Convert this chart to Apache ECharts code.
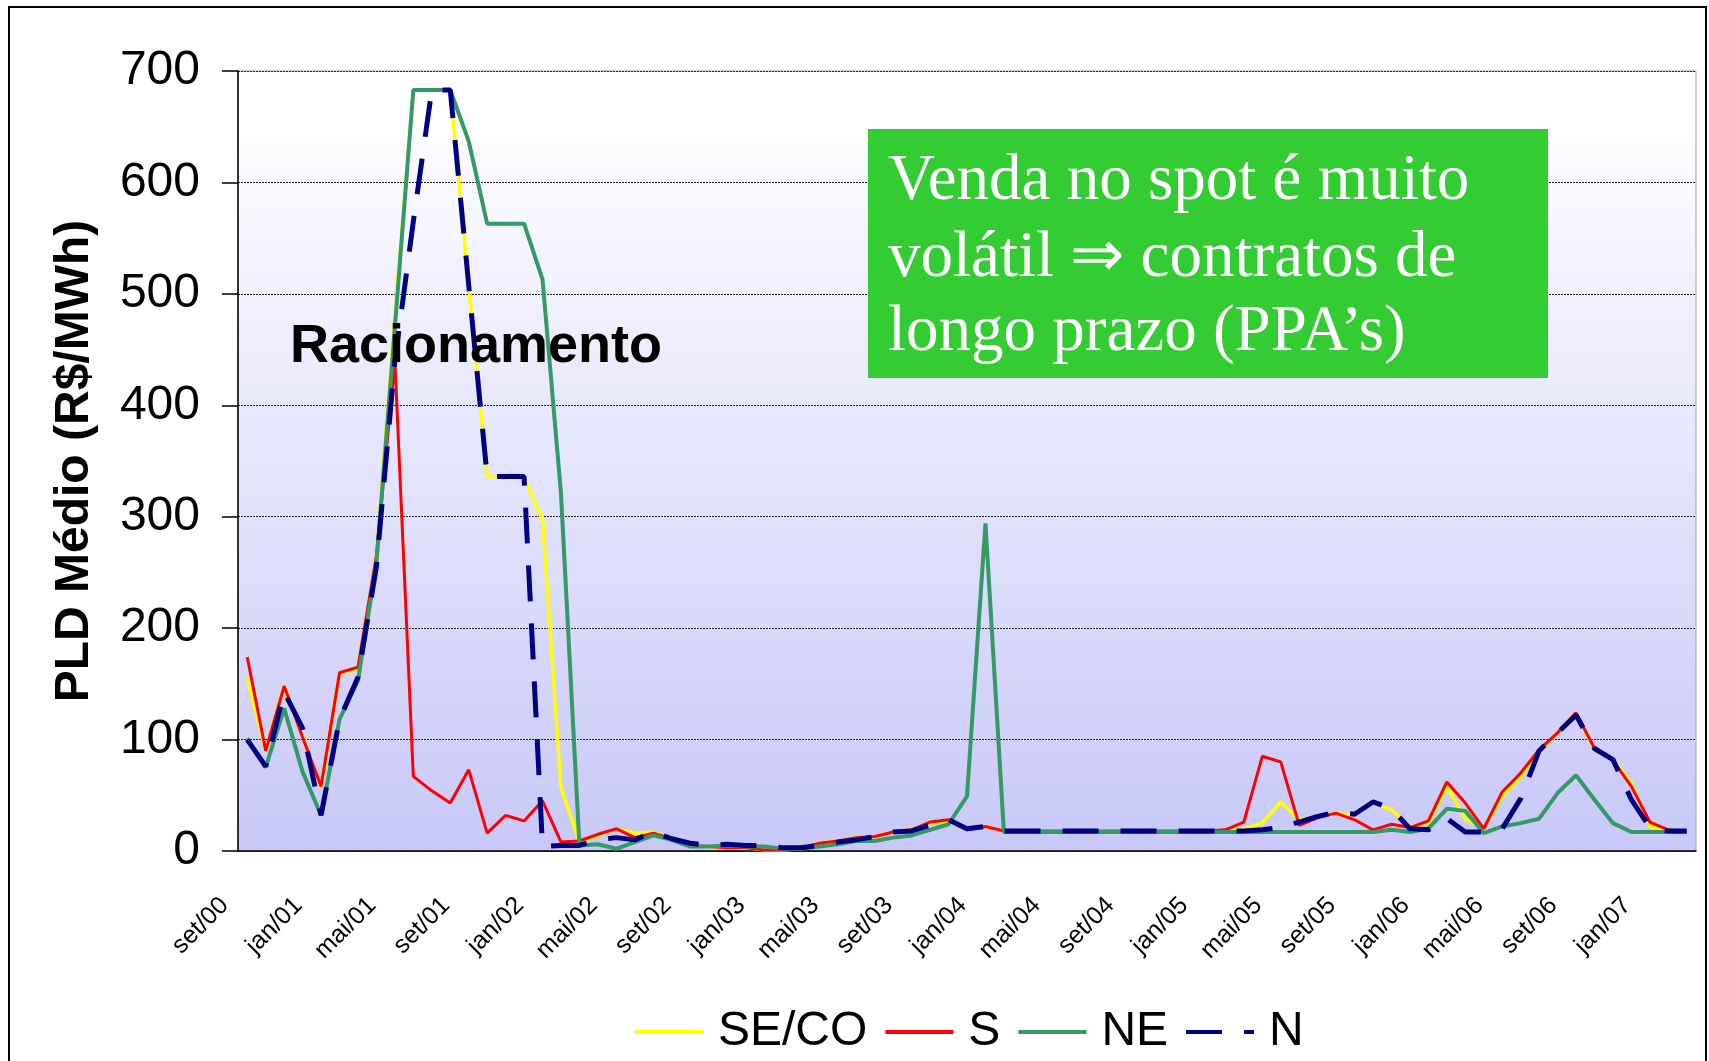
<!DOCTYPE html>
<html>
<head>
<meta charset="utf-8">
<script src="https://cdn.jsdelivr.net/npm/echarts@6/dist/echarts.min.js"></script>
<style>
html,body{margin:0;padding:0;background:#ffffff;}
#chart{width:1709px;height:1061px;}
</style>
</head>
<body>
<div id="chart"></div>
<script>
// Month categories (set/00 .. mar/07)
const categories = [
  'set/00','out/00','nov/00','dez/00',
  'jan/01','fev/01','mar/01','abr/01','mai/01','jun/01','jul/01','ago/01','set/01','out/01','nov/01','dez/01',
  'jan/02','fev/02','mar/02','abr/02','mai/02','jun/02','jul/02','ago/02','set/02','out/02','nov/02','dez/02',
  'jan/03','fev/03','mar/03','abr/03','mai/03','jun/03','jul/03','ago/03','set/03','out/03','nov/03','dez/03',
  'jan/04','fev/04','mar/04','abr/04','mai/04','jun/04','jul/04','ago/04','set/04','out/04','nov/04','dez/04',
  'jan/05','fev/05','mar/05','abr/05','mai/05','jun/05','jul/05','ago/05','set/05','out/05','nov/05','dez/05',
  'jan/06','fev/06','mar/06','abr/06','mai/06','jun/06','jul/06','ago/06','set/06','out/06','nov/06','dez/06',
  'jan/07','fev/07','mar/07'
];

const seriesNames = ['SE/CO', 'S', 'NE', 'N'];

const seco = [155, 90, 148, 103, 57, 160, 163, 265, 480, 683,
  683, 683, 508, 336, 336, 336, 297, 57, 8, 14,
  20, 16, 17, 11, 5, 4, 3, 3, 1, 1,
  2, 7, 9, 12, 13, 17, 19, 25, 27, 20,
  22, 18, 18, 18, 18, 18, 18, 18, 18, 18,
  18, 18, 18, 18, 20, 25, 44, 28, 31, 34,
  32, 43, 37, 22, 25, 58, 29, 20, 49, 67,
  89, 106, 124, 91, 82, 61, 22, 19, 17];

const sul = [174, 90, 148, 102, 58, 160, 165, 265, 440, 67,
  54, 43, 73, 16, 32, 27, 45, 8, 9, 15,
  20, 12, 16, 11, 5, 4, 3, 3, 1, 1,
  2, 7, 9, 12, 13, 17, 19, 26, 28, 19,
  22, 18, 18, 18, 18, 18, 18, 18, 18, 18,
  18, 18, 18, 19, 26, 85, 80, 23, 30, 34,
  28, 19, 24, 21, 27, 62, 43, 20, 53, 70,
  91, 106, 124, 92, 81, 58, 26, 19, 17];

const nordeste = [101, 75, 128, 71, 32, 118, 153, 258, 470, 683,
  683, 683, 637, 563, 563, 563, 513, 321, 5, 6,
  2, 8, 14, 10, 4, 4, 5, 4, 4, 2,
  2, 4, 6, 9, 9, 12, 14, 19, 24, 49,
  294, 17, 17, 17, 17, 17, 17, 17, 17, 17,
  17, 17, 17, 17, 17, 17, 17, 17, 17, 17,
  17, 17, 19, 17, 20, 38, 36, 16, 22, 25,
  29, 52, 68, 46, 25, 17, 17, 17, 17];

const norte = [100, 76, 143, 110, 32, 118, 156, 255, 440, 565,
  683, 683, 508, 336, 336, 336, 4, 5, 5, 10,
  12, 10, 17, 11, 7, 5, 6, 5, 5, 3,
  3, 5, 8, 10, 13, 17, 18, 23, 28, 20,
  22, 18, 18, 18, 18, 18, 18, 18, 18, 18,
  18, 18, 18, 18, 18, 19, 21, 26, 31, 35,
  33, 44, 38, 20, 19, 29, 17, 17, 20, 47,
  90, 106, 122, 92, 82, 46, 21, 18, 18];

const yMin = 0, yMax = 700, yStep = 100;

const chart = echarts.init(document.getElementById('chart'), null, {renderer: 'canvas'});

chart.setOption({
  animation: false,
  backgroundColor: '#ffffff',
  textStyle: {fontFamily: 'Liberation Sans'},
  grid: {
    left: 238, right: 13, top: 71, bottom: 210,
    show: true,
    borderColor: '#a0a0a0', borderWidth: 1,
    backgroundColor: {
      type: 'linear', x: 0, y: 0, x2: 0, y2: 1,
      colorStops: [
        {offset: 0, color: '#ffffff'},
        {offset: 0.09, color: '#ffffff'},
        {offset: 0.1, color: '#fbfbff'},
        {offset: 1, color: '#c8c8f8'}
      ]
    }
  },
  legend: {
    data: seriesNames,
    left: 628, top: 1003,
    itemWidth: 68, itemHeight: 14, itemGap: 16,
    itemStyle: {opacity: 0},
    lineStyle: {width: 4},
    textStyle: {fontFamily: 'Liberation Sans', fontSize: 48, color: '#000', padding: [0, 0, 0, 10]}
  },
  xAxis: {
    type: 'category',
    data: categories,
    boundaryGap: true,
    axisLine: {lineStyle: {color: '#000', width: 1.5}},
    axisTick: {interval: 3, length: 11, lineStyle: {color: '#000', width: 1.5}},
    axisLabel: {
      interval: 3, rotate: 45,
      fontFamily: 'Liberation Sans', fontSize: 25, color: '#000',
      margin: 28, padding: [0, 32, 0, 0]
    },
    splitLine: {show: false}
  },
  yAxis: {
    type: 'value', min: yMin, max: yMax, interval: yStep,
    name: 'PLD Médio (R$/MWh)',
    nameLocation: 'middle', nameRotate: 90, nameGap: 139,
    nameTextStyle: {fontFamily: 'Liberation Sans', fontSize: 48, fontWeight: 'bold', color: '#000'},
    axisLine: {show: true, lineStyle: {color: '#000', width: 1.5}},
    axisTick: {show: true, length: 16, lineStyle: {color: '#000', width: 1.5}},
    axisLabel: {fontFamily: 'Liberation Sans', fontSize: 48, color: '#000', margin: 38},
    splitLine: {lineStyle: {color: '#222', type: [2, 1], width: 1}}
  },
  series: [
    {name: 'SE/CO', type: 'line', data: seco, symbol: 'none', z: 2,
     lineStyle: {color: '#ffff00', width: 3.5}, itemStyle: {color: '#ffff00'}},
    {name: 'S', type: 'line', data: sul, symbol: 'none', z: 3,
     lineStyle: {color: '#ff0000', width: 3}, itemStyle: {color: '#ff0000'}},
    {name: 'NE', type: 'line', data: nordeste, symbol: 'none', z: 4,
     lineStyle: {color: '#339966', width: 4}, itemStyle: {color: '#339966'}},
    {name: 'N', type: 'line', data: norte, symbol: 'none', z: 5,
     lineStyle: {color: '#000080', width: 5, type: [36, 22], cap: 'butt'}, itemStyle: {color: '#000080'}}
  ],
  graphic: [
    {type: 'rect', silent: true, z: 100,
     shape: {x: 9, y: 7, width: 1697, height: 1080},
     style: {fill: 'none', stroke: '#000', lineWidth: 2}},
    {type: 'text', silent: true, z: 60, x: 290, y: 347,
     style: {text: 'Racionamento', font: 'bold 54px "Liberation Sans"', fill: '#000',
             textAlign: 'left', textVerticalAlign: 'middle', align: 'left', verticalAlign: 'middle'}},
    {type: 'rect', silent: true, z: 60,
     shape: {x: 868, y: 129, width: 680, height: 249},
     style: {fill: '#33cc33'}},
    {type: 'text', silent: true, z: 61, x: 888, y: 182,
     style: {text: 'Venda no spot é muito', font: '65px "Liberation Serif"', fill: '#fff',
             textAlign: 'left', textVerticalAlign: 'middle', align: 'left', verticalAlign: 'middle'}},
    {type: 'text', silent: true, z: 61, x: 888, y: 259,
     style: {text: 'volátil ⇒ contratos de', font: '65px "Liberation Serif"', fill: '#fff',
             textAlign: 'left', textVerticalAlign: 'middle', align: 'left', verticalAlign: 'middle'}},
    {type: 'text', silent: true, z: 61, x: 888, y: 333,
     style: {text: 'longo prazo (PPA’s)', font: '65px "Liberation Serif"', fill: '#fff',
             textAlign: 'left', textVerticalAlign: 'middle', align: 'left', verticalAlign: 'middle'}}
  ]
});
</script>
</body>
</html>
